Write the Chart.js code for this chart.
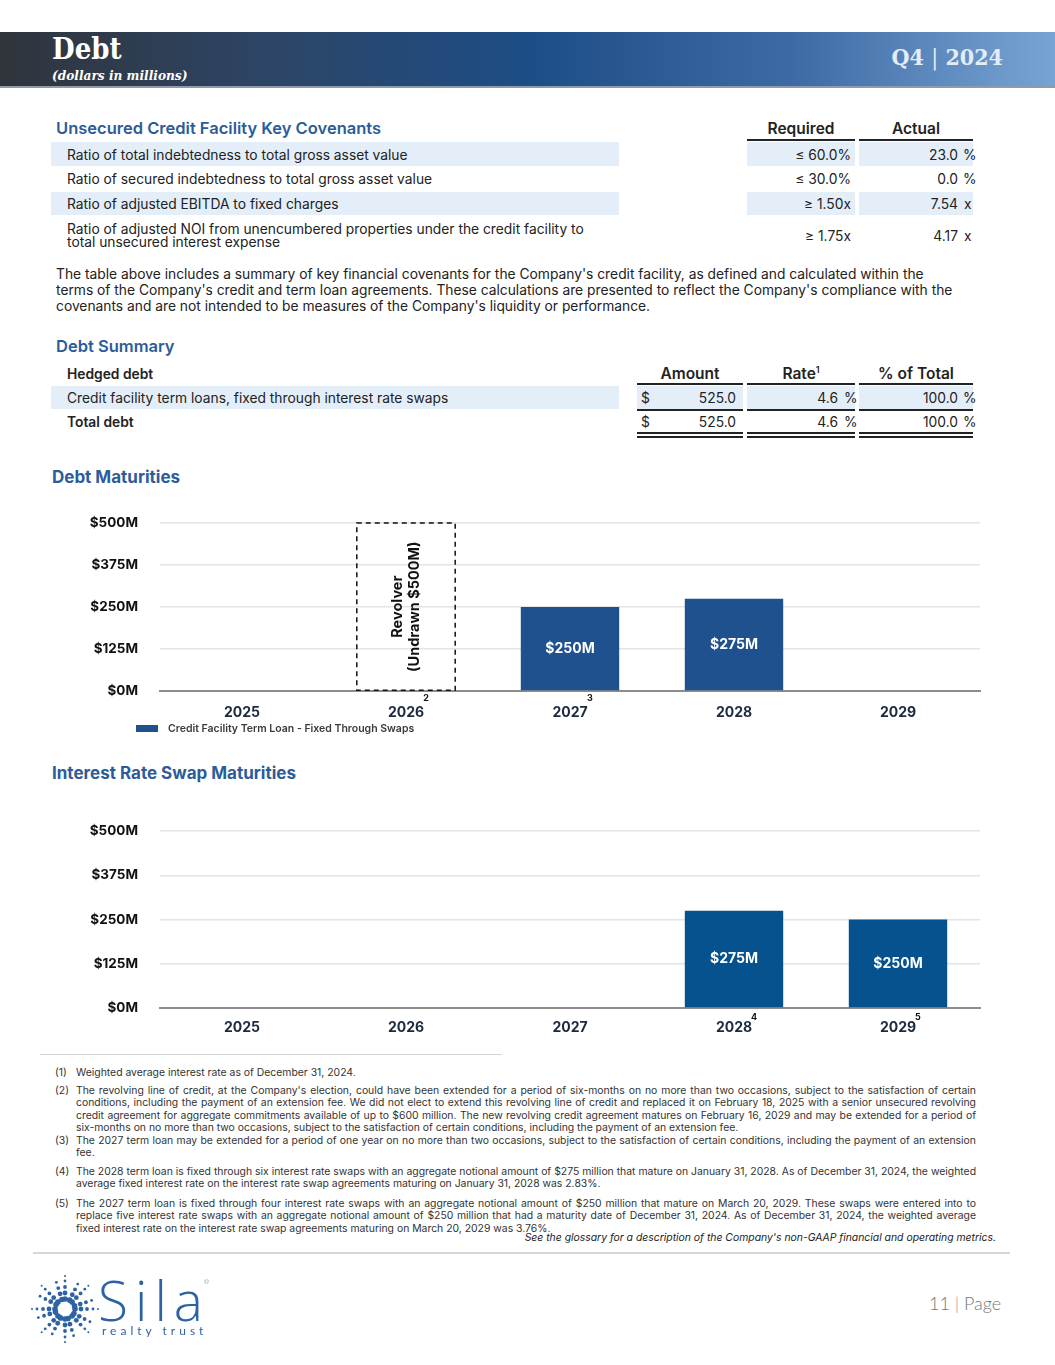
<!DOCTYPE html>
<html>
<head>
<meta charset="utf-8">
<script src="https://cdn.jsdelivr.net/npm/chart.js@4.4.1/dist/chart.umd.min.js"></script>
<style>
  body { margin: 0; background: #fff; font-family: Inter, "Noto Sans", sans-serif; color: #222; }
  #page { position: relative; width: 1055px; height: 1365px; overflow: hidden; }
  .abs { position: absolute; white-space: nowrap; }
  #header { position: absolute; left: 0; top: 32px; width: 1055px; height: 54px;
    background: linear-gradient(90deg, #30343b 0%, #2d4565 25%, #1d4d86 50%, #3d6aa4 75%, #78a4d4 100%);
    border-bottom: 2px solid #8d9bab; }
  .serif { font-family: "DejaVu Serif Condensed", "DejaVu Serif", serif; font-weight: bold; }
  .title { font-weight: 600; font-size: 16.5px; color: #2c5c99; }
  .shade { position: absolute; background: #e3eef9; }
  .rule { position: absolute; background: #222; }
  .cell { position: absolute; font-size: 13.8px; line-height: 16px; white-space: nowrap; }
  .hdr { position: absolute; font-size: 15.5px; font-weight: 600; text-align: center; white-space: nowrap; }
  .fn { position: absolute; left: 55px; width: 921px; font-size: 10.4px; line-height: 12.4px; color: #333; }
  .fn .n { position: absolute; left: 0; top: 0; }
  .fn .t { margin-left: 21px; text-align: justify; }
  canvas { position: absolute; }
</style>
</head>
<body>
<div id="page">
  <div id="header">
    <div class="abs serif" style="left:52px; top:0px; font-size:29px; color:#fff;">Debt</div>
    <div class="abs serif" style="left:52px; top:35px; font-size:13.5px; color:#fff; font-style:italic;">(dollars in millions)</div>
    <div class="abs serif" style="right:52px; top:11px; font-size:23px; color:#e4ecf5;">Q4 <span style="font-weight:300;">|</span> 2024</div>
  </div>

  <!-- covenants -->
  <div class="abs title" style="left:56px; top:118px;">Unsecured Credit Facility Key Covenants</div>
  <div class="hdr" style="left:747px; width:108px; top:119px;">Required</div>
  <div class="hdr" style="left:859px; width:114px; top:119px;">Actual</div>
  <div class="rule" style="left:747px; width:108px; top:139px; height:2px;"></div>
  <div class="rule" style="left:859px; width:114px; top:139px; height:2px;"></div>

  <div class="shade" style="left:51px; width:568px; top:142px; height:24px;"></div>
  <div class="shade" style="left:747px; width:108px; top:142px; height:24px;"></div>
  <div class="shade" style="left:859px; width:114px; top:142px; height:24px;"></div>
  <div class="shade" style="left:51px; width:568px; top:192px; height:23px;"></div>
  <div class="shade" style="left:747px; width:108px; top:192px; height:23px;"></div>
  <div class="shade" style="left:859px; width:114px; top:192px; height:23px;"></div>

  <div class="cell" style="left:67px; top:147px;">Ratio of total indebtedness to total gross asset value</div>
  <div class="cell" style="right:204px; top:147px;">≤ 60.0%</div>
  <div class="cell" style="right:97px; top:147px;">23.0</div><div class="cell" style="left:963px; top:147px;">%</div>

  <div class="cell" style="left:67px; top:171px;">Ratio of secured indebtedness to total gross asset value</div>
  <div class="cell" style="right:204px; top:171px;">≤ 30.0%</div>
  <div class="cell" style="right:97px; top:171px;">0.0</div><div class="cell" style="left:963px; top:171px;">%</div>

  <div class="cell" style="left:67px; top:196px;">Ratio of adjusted EBITDA to fixed charges</div>
  <div class="cell" style="right:204px; top:196px;">≥ 1.50x</div>
  <div class="cell" style="right:97px; top:196px;">7.54</div><div class="cell" style="left:964px; top:196px;">x</div>

  <div class="cell" style="left:67px; top:223px; line-height:13px;">Ratio of adjusted NOI from unencumbered properties under the credit facility to<br>total unsecured interest expense</div>
  <div class="cell" style="right:204px; top:228px;">≥ 1.75x</div>
  <div class="cell" style="right:97px; top:228px;">4.17</div><div class="cell" style="left:964px; top:228px;">x</div>

  <div class="abs" style="left:56px; top:266px; font-size:13.8px; line-height:16px; color:#222;">The table above includes a summary of key financial covenants for the Company's credit facility, as defined and calculated within the<br>terms of the Company's credit and term loan agreements. These calculations are presented to reflect the Company's compliance with the<br>covenants and are not intended to be measures of the Company's liquidity or performance.</div>

  <!-- debt summary -->
  <div class="abs title" style="left:56px; top:336px;">Debt Summary</div>
  <div class="cell" style="left:67px; top:366px; font-weight:600;">Hedged debt</div>
  <div class="hdr" style="left:637px; width:106px; top:364px;">Amount</div>
  <div class="hdr" style="left:747px; width:108px; top:364px;">Rate<sup style="font-size:9px;">1</sup></div>
  <div class="hdr" style="left:859px; width:114px; top:364px;">% of Total</div>
  <div class="rule" style="left:637px; width:106px; top:383px; height:2px;"></div>
  <div class="rule" style="left:747px; width:108px; top:383px; height:2px;"></div>
  <div class="rule" style="left:859px; width:114px; top:383px; height:2px;"></div>

  <div class="shade" style="left:51px; width:568px; top:386px; height:23px;"></div>
  <div class="shade" style="left:637px; width:106px; top:386px; height:23px;"></div>
  <div class="shade" style="left:747px; width:108px; top:386px; height:23px;"></div>
  <div class="shade" style="left:859px; width:114px; top:386px; height:23px;"></div>
  <div class="cell" style="left:67px; top:390px;">Credit facility term loans, fixed through interest rate swaps</div>
  <div class="cell" style="left:641px; top:390px;">$</div><div class="cell" style="right:319px; top:390px;">525.0</div>
  <div class="cell" style="right:217px; top:390px;">4.6</div><div class="cell" style="left:844px; top:390px;">%</div>
  <div class="cell" style="right:97px; top:390px;">100.0</div><div class="cell" style="left:963px; top:390px;">%</div>
  <div class="rule" style="left:637px; width:106px; top:409px; height:2px;"></div>
  <div class="rule" style="left:747px; width:108px; top:409px; height:2px;"></div>
  <div class="rule" style="left:859px; width:114px; top:409px; height:2px;"></div>

  <div class="cell" style="left:67px; top:414px; font-weight:600;">Total debt</div>
  <div class="cell" style="left:641px; top:414px;">$</div><div class="cell" style="right:319px; top:414px;">525.0</div>
  <div class="cell" style="right:217px; top:414px;">4.6</div><div class="cell" style="left:844px; top:414px;">%</div>
  <div class="cell" style="right:97px; top:414px;">100.0</div><div class="cell" style="left:963px; top:414px;">%</div>
  <div class="rule" style="left:637px; width:106px; top:432px; height:1.5px;"></div>
  <div class="rule" style="left:747px; width:108px; top:432px; height:1.5px;"></div>
  <div class="rule" style="left:859px; width:114px; top:432px; height:1.5px;"></div>
  <div class="rule" style="left:637px; width:106px; top:436px; height:1.5px;"></div>
  <div class="rule" style="left:747px; width:108px; top:436px; height:1.5px;"></div>
  <div class="rule" style="left:859px; width:114px; top:436px; height:1.5px;"></div>

  <!-- charts -->
  <div class="abs" style="left:52px; top:467px; font-size:17px; font-weight:700; color:#2c5c99;">Debt Maturities</div>
  <canvas id="debtChart" width="960" height="252" style="left:40px; top:493px;"></canvas>

  <div class="abs" style="left:52px; top:763px; font-size:17px; font-weight:700; color:#2c5c99;">Interest Rate Swap Maturities</div>
  <canvas id="swapChart" width="960" height="249" style="left:40px; top:801px;"></canvas>

  <!-- footnotes -->
  <div class="abs" style="left:40px; top:1054px; width:462px; height:1px; background:#d4d4d4;"></div>
  <div class="fn" style="top:1067px;"><span class="n">(1)</span><div class="t">Weighted average interest rate as of December 31, 2024.</div></div>
  <div class="fn" style="top:1085px;"><span class="n">(2)</span><div class="t">The revolving line of credit, at the Company's election, could have been extended for a period of six-months on no more than two occasions, subject to the satisfaction of certain conditions, including the payment of an extension fee. We did not elect to extend this revolving line of credit and replaced it on February 18, 2025 with a senior unsecured revolving credit agreement for aggregate commitments available of up to $600 million. The new revolving credit agreement matures on February 16, 2029 and may be extended for a period of six-months on no more than two occasions, subject to the satisfaction of certain conditions, including the payment of an extension fee.</div></div>
  <div class="fn" style="top:1135px;"><span class="n">(3)</span><div class="t">The 2027 term loan may be extended for a period of one year on no more than two occasions, subject to the satisfaction of certain conditions, including the payment of an extension fee.</div></div>
  <div class="fn" style="top:1166px;"><span class="n">(4)</span><div class="t">The 2028 term loan is fixed through six interest rate swaps with an aggregate notional amount of $275 million that mature on January 31, 2028. As of December 31, 2024, the weighted average fixed interest rate on the interest rate swap agreements maturing on January 31, 2028 was 2.83%.</div></div>
  <div class="fn" style="top:1198px;"><span class="n">(5)</span><div class="t">The 2027 term loan is fixed through four interest rate swaps with an aggregate notional amount of $250 million that mature on March 20, 2029. These swaps were entered into to replace five interest rate swaps with an aggregate notional amount of $250 million that had a maturity date of December 31, 2024. As of December 31, 2024, the weighted average fixed interest rate on the interest rate swap agreements maturing on March 20, 2029 was 3.76%.</div></div>
  <div class="abs" style="right:59px; top:1231px; font-size:10.4px; font-style:italic; color:#222;">See the glossary for a description of the Company's non-GAAP financial and operating metrics.</div>

  <div class="abs" style="left:33px; top:1252px; width:977px; height:2px; background:#d6d6d6;"></div>

  <!-- footer -->
  <canvas id="logoMark" width="70" height="70" style="left:30px; top:1274px;"></canvas>
  <div class="abs" style="left:98px; top:1262px; font-family:'Open Sans', Lato, sans-serif; font-weight:300; font-size:55px; color:#2d62a3; letter-spacing:7px;">Sila<span style="font-size:6px; vertical-align:top; position:relative; top:16px; left:-6px;">®</span></div>
  <div class="abs" style="left:102px; top:1323px; font-family:Lato, sans-serif; font-weight:400; font-size:12px; color:#2d62a3; letter-spacing:4px;">realty trust</div>
  <div class="abs" style="left:929px; top:1292px; font-family:Lato, sans-serif; font-weight:300; font-size:18px; color:#777;">11 <span style="color:#999;">|</span> Page</div>
</div>

<script>
// --- DATA ---
const years = ['2025', '2026', '2027', '2028', '2029'];
const termLoanMaturities = [null, null, 250, 275, null];
const revolverUndrawn = [null, 500, null, null, null];
const swapMaturities = [null, null, null, 275, 250];
const debtYearNotes = ['', '2', '3', '', ''];
const swapYearNotes = ['', '', '', '4', '5'];
const yTickValues = [0, 125, 250, 375, 500];

const FONT = 'Inter, "Noto Sans", sans-serif';

// value labels centred inside the bars of the first dataset
const barLabels = {
    id: 'barLabels',
    afterDatasetsDraw(chart) {
        const ctx = chart.ctx;
        const meta = chart.getDatasetMeta(0);
        const values = chart.data.datasets[0].data;
        ctx.save();
        ctx.fillStyle = '#ffffff';
        ctx.font = '700 14px ' + FONT;
        ctx.textAlign = 'center';
        ctx.textBaseline = 'middle';
        meta.data.forEach((bar, i) => {
            if (values[i] == null) return;
            ctx.fillText('$' + values[i] + 'M', bar.x, (bar.y + bar.base) / 2);
        });
        ctx.restore();
    }
};

// footnote markers next to year labels
const yearNotes = {
    id: 'yearNotes',
    afterDraw(chart, args, opts) {
        const ctx = chart.ctx;
        const x = chart.scales.x;
        const y0 = x.top + opts.dy;
        ctx.save();
        ctx.fillStyle = '#111';
        ctx.font = '700 9px ' + FONT;
        ctx.textAlign = 'center';
        ctx.textBaseline = 'middle';
        opts.notes.forEach((n, i) => {
            if (!n) return;
            ctx.fillText(n, x.getPixelForValue(i) + 20, y0);
        });
        ctx.restore();
    }
};

// revolver: dashed outline + rotated caption around dataset 1
const revolverBox = {
    id: 'revolverBox',
    afterDatasetsDraw(chart) {
        const ds = chart.data.datasets[1];
        if (!ds) return;
        const meta = chart.getDatasetMeta(1);
        const ctx = chart.ctx;
        meta.data.forEach((bar, i) => {
            if (ds.data[i] == null) return;
            const w = bar.width;
            ctx.save();
            ctx.strokeStyle = '#111';
            ctx.lineWidth = 1.5;
            ctx.setLineDash([5, 4]);
            ctx.strokeRect(bar.x - w / 2, bar.y, w, bar.base - bar.y);
            ctx.setLineDash([]);
            ctx.translate(bar.x, (bar.y + bar.base) / 2);
            ctx.rotate(-Math.PI / 2);
            ctx.fillStyle = '#111';
            ctx.font = '700 14.5px ' + FONT;
            ctx.textAlign = 'center';
            ctx.textBaseline = 'middle';
            ctx.fillText('Revolver', 0, -8);
            ctx.fillText('(Undrawn $500M)', 0, 9);
            ctx.restore();
        });
    }
};

// legend placed just left of the plot area, below the axis
const sideLegend = {
    id: 'sideLegend',
    afterDraw(chart, args, opts) {
        if (!opts.show) return;
        const ctx = chart.ctx;
        const ds = chart.data.datasets[0];
        const left = chart.chartArea.left - 24;
        const y = chart.chartArea.bottom + opts.dy;
        ctx.save();
        ctx.fillStyle = ds.backgroundColor;
        ctx.fillRect(left, y - 3, 22, 7);
        ctx.fillStyle = '#3a3a3a';
        ctx.font = '600 10.5px ' + FONT;
        ctx.textBaseline = 'middle';
        ctx.fillText(ds.label, left + 32, y + 1);
        ctx.restore();
    }
};

// y tick padding (22) also pads the top of the plot by ~30px; canvases are placed for that
function makeOptions(axisHeight, tickPad) {
    return {
        responsive: false,
        animation: false,
        layout: { padding: { top: 0, right: 20, left: 0, bottom: 0 } },
        plugins: { legend: { display: false }, tooltip: { enabled: false } },
        scales: {
            x: {
                stacked: true,
                grid: { display: false, drawTicks: false },
                border: { display: true, color: '#8c8c8c', width: 2 },
                ticks: { color: '#1c2a3d', font: { family: FONT, size: 14, weight: '700' }, padding: tickPad },
                afterFit: (s) => { s.height = axisHeight; }
            },
            y: {
                stacked: true,
                min: 0,
                max: 500,
                grid: { color: '#e4e4e4', lineWidth: 1.5, drawTicks: false },
                border: { display: false },
                ticks: { color: '#111', font: { family: FONT, size: 13.5, weight: '700' }, padding: 22,
                    callback: (v) => '$' + v + 'M' },
                afterBuildTicks: (s) => { s.ticks = yTickValues.map(v => ({ value: v })); },
                afterFit: (s) => { s.width = 120; }
            }
        }
    };
}

document.addEventListener('DOMContentLoaded', () => {
    const debtOpts = makeOptions(54, 13);
    debtOpts.plugins.yearNotes = { notes: debtYearNotes, dy: 7 };
    debtOpts.plugins.sideLegend = { show: true, dy: 37 };

    new Chart(document.getElementById('debtChart'), {
        type: 'bar',
        data: {
            labels: years,
            datasets: [{
                label: 'Credit Facility Term Loan - Fixed Through Swaps',
                data: termLoanMaturities,
                backgroundColor: '#1f518f',
                categoryPercentage: 0.6,
                barPercentage: 1.0
            }, {
                label: 'Revolver (Undrawn $500M)',
                data: revolverUndrawn,
                backgroundColor: 'rgba(0,0,0,0)',
                borderWidth: 0,
                categoryPercentage: 0.6,
                barPercentage: 1.0
            }]
        },
        options: debtOpts,
        plugins: [barLabels, revolverBox, yearNotes, sideLegend]
    });

    const swapOpts = makeOptions(42, 11);
    swapOpts.plugins.yearNotes = { notes: swapYearNotes, dy: 9 };
    swapOpts.plugins.sideLegend = { show: false };

    new Chart(document.getElementById('swapChart'), {
        type: 'bar',
        data: {
            labels: years,
            datasets: [{
                label: 'Interest Rate Swaps',
                data: swapMaturities,
                backgroundColor: '#06528f',
                categoryPercentage: 0.6,
                barPercentage: 1.0
            }]
        },
        options: swapOpts,
        plugins: [barLabels, yearNotes, sideLegend]
    });

    drawLogo();
});

// sunburst mark of the logo
function drawLogo() {
    const c = document.getElementById('logoMark');
    const ctx = c.getContext('2d');
    const cx = 35, cy = 35;
    const rays = 16;
    const rings = [[10, 2.8], [16, 2.4], [22, 1.9], [28, 1.4], [33, 1.0]];
    ctx.fillStyle = '#2d62a3';
    for (let r = 0; r < rays; r++) {
        const a = r * 2 * Math.PI / rays + (r % 2 ? 0.08 : 0);
        rings.forEach(([rad, size], k) => {
            if (r % 2 && k === 4) return;
            ctx.beginPath();
            ctx.arc(cx + Math.cos(a) * rad, cy + Math.sin(a) * rad, size, 0, 2 * Math.PI);
            ctx.fill();
        });
    }
}
</script>
</body>
</html>
